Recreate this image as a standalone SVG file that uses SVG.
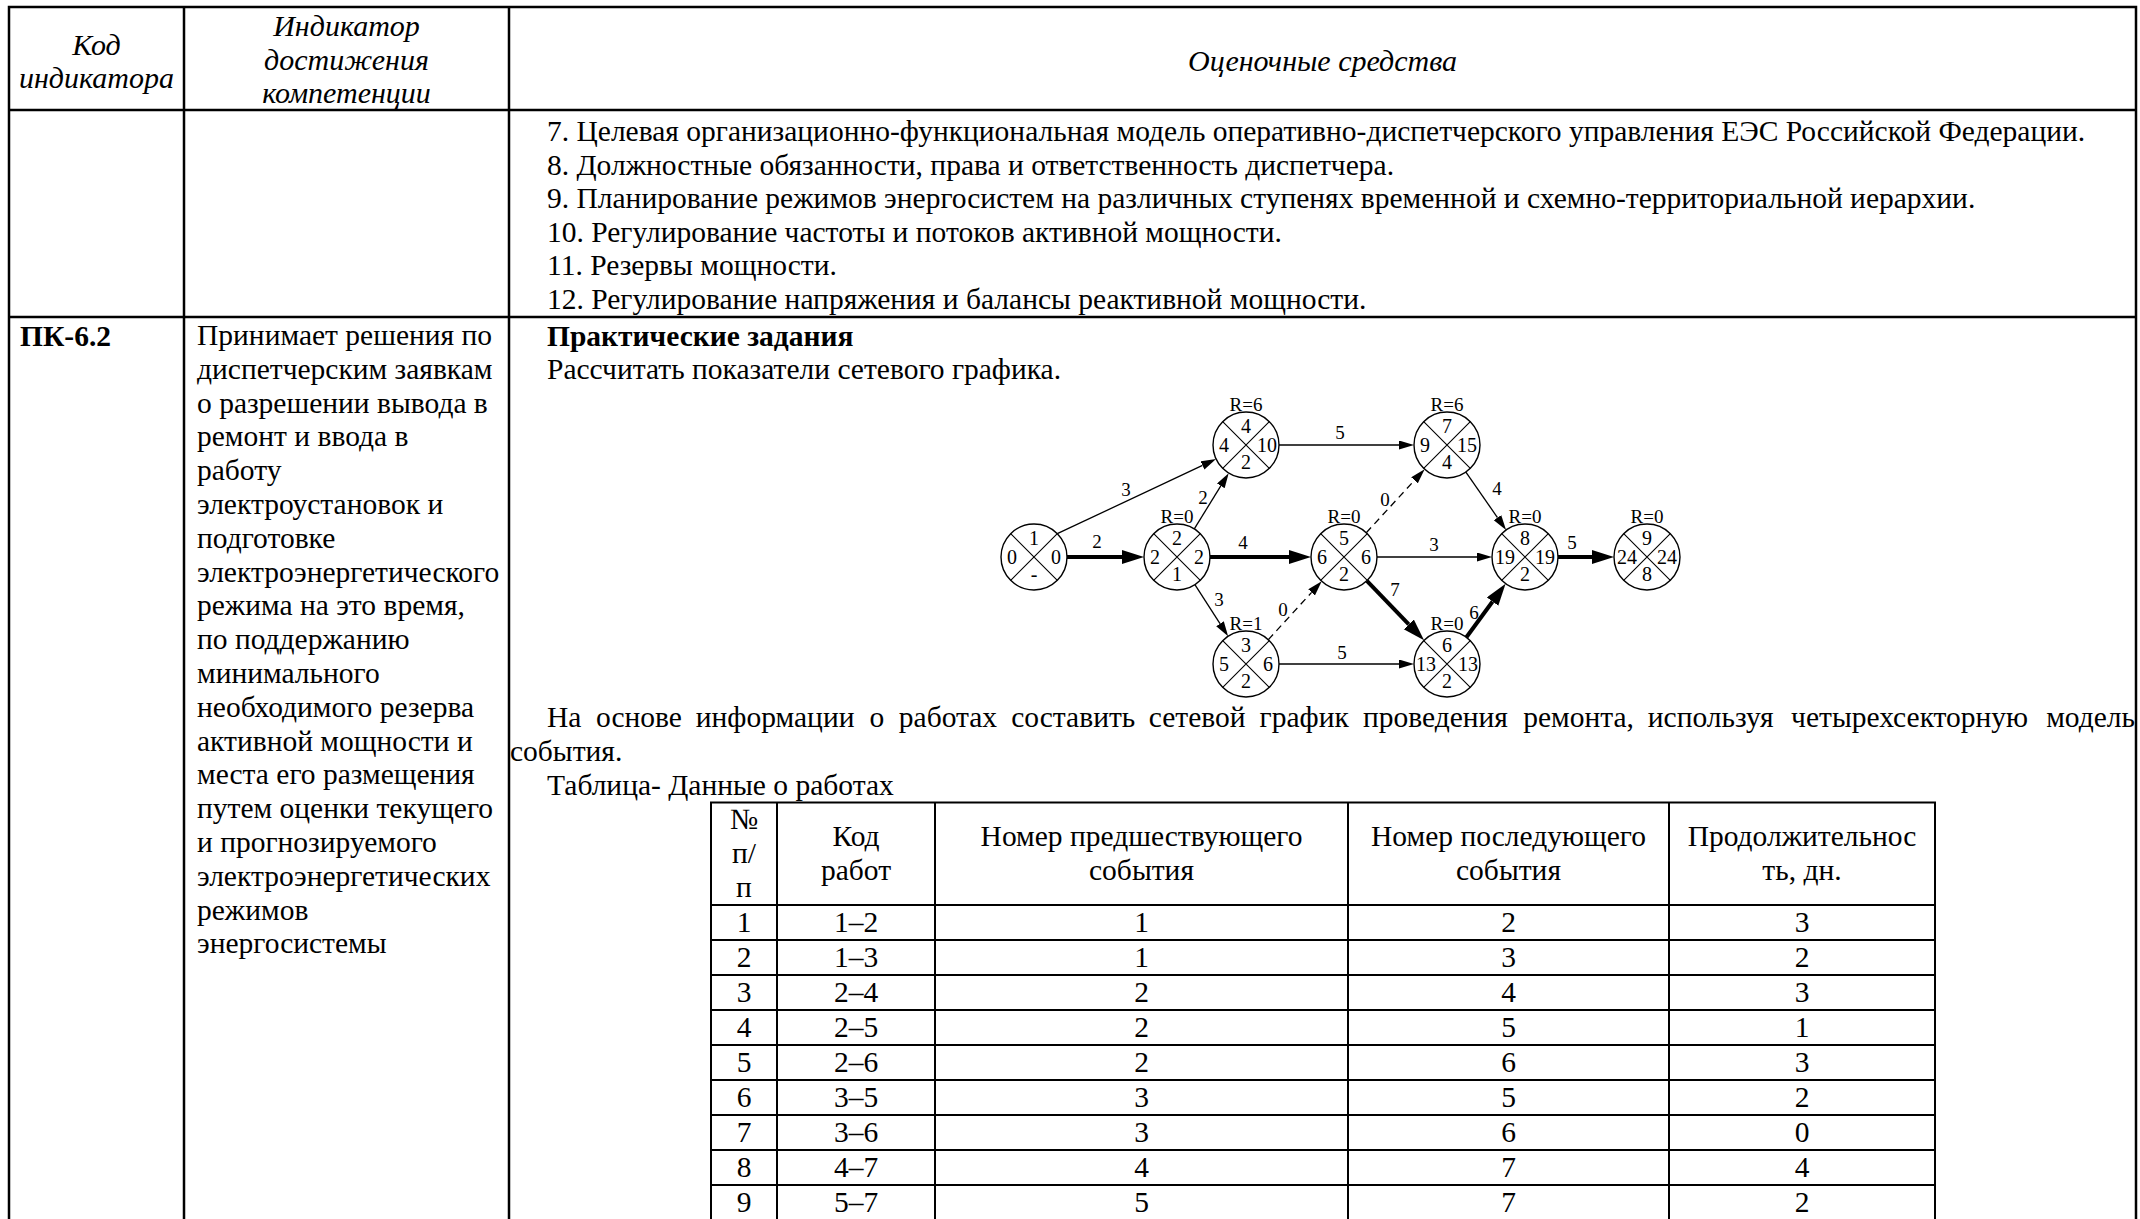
<svg xmlns="http://www.w3.org/2000/svg" width="2140" height="1219" viewBox="0 0 2140 1219">
<style>
text{font-family:"Liberation Serif","Times New Roman",serif;fill:#000}
.t{font-size:29.5px}
.it{font-size:30px;font-style:italic}
.b{font-weight:bold}
.c{text-anchor:middle}
.grid{stroke:#000;stroke-width:2.5;fill:none}
.tg{stroke:#000;stroke-width:2;fill:none}
.nd{fill:#fff;stroke:#000;stroke-width:1.4}
.x{stroke:#000;stroke-width:1.1}
.n{font-size:20px;text-anchor:middle}
.lb{font-size:19px;text-anchor:middle}
.e{stroke:#000;stroke-width:1.3;fill:none}
.ek{stroke:#000;stroke-width:4;fill:none}
.ed{stroke:#000;stroke-width:1.3;fill:none;stroke-dasharray:7 5}
</style>
<defs>
<marker id="a" markerUnits="userSpaceOnUse" markerWidth="16" markerHeight="10" refX="0" refY="4.5" orient="auto"><path d="M0,0 L15,4.5 L0,9 Z" fill="#000"/></marker>
<marker id="ak" markerUnits="userSpaceOnUse" markerWidth="23" markerHeight="15" refX="0" refY="7" orient="auto"><path d="M0,0 L22,7 L0,14 Z" fill="#000"/></marker>
</defs>
<rect width="2140" height="1219" fill="#fff"/>

<g id="outer-table">
<path class="grid" d="M9,1219 V7 H2136 V1219 M184,7 V1219 M509,7 V1219 M9,110 H2136 M9,317 H2136"/>
</g>

<g id="header">
<text class="it c" x="96.5" y="55">Код</text>
<text class="it c" x="96.5" y="88">индикатора</text>
<text class="it c" x="346.5" y="36">Индикатор</text>
<text class="it c" x="346.5" y="70">достижения</text>
<text class="it c" x="346.5" y="103">компетенции</text>
<text class="it c" x="1322.5" y="71">Оценочные средства</text>
</g>

<g id="row1">
<text class="t" x="547" y="141">7. Целевая организационно-функциональная модель оперативно-диспетчерского управления ЕЭС Российской Федерации.</text>
<text class="t" x="547" y="174.6">8. Должностные обязанности, права и ответственность диспетчера.</text>
<text class="t" x="547" y="208.2">9. Планирование режимов энергосистем на различных ступенях временной и схемно-территориальной иерархии.</text>
<text class="t" x="547" y="241.8">10. Регулирование частоты и потоков активной мощности.</text>
<text class="t" x="547" y="275.4">11. Резервы мощности.</text>
<text class="t" x="547" y="309">12. Регулирование напряжения и балансы реактивной мощности.</text>
</g>

<g id="row2">
<text class="t b" x="20" y="346">ПК-6.2</text>
<text class="t" x="197" y="345">
<tspan x="197" dy="0">Принимает решения по</tspan>
<tspan x="197" dy="33.8">диспетчерским заявкам</tspan>
<tspan x="197" dy="33.8">о разрешении вывода в</tspan>
<tspan x="197" dy="33.8">ремонт и ввода в</tspan>
<tspan x="197" dy="33.8">работу</tspan>
<tspan x="197" dy="33.8">электроустановок и</tspan>
<tspan x="197" dy="33.8">подготовке</tspan>
<tspan x="197" dy="33.8">электроэнергетического</tspan>
<tspan x="197" dy="33.8">режима на это время,</tspan>
<tspan x="197" dy="33.8">по поддержанию</tspan>
<tspan x="197" dy="33.8">минимального</tspan>
<tspan x="197" dy="33.8">необходимого резерва</tspan>
<tspan x="197" dy="33.8">активной мощности и</tspan>
<tspan x="197" dy="33.8">места его размещения</tspan>
<tspan x="197" dy="33.8">путем оценки текущего</tspan>
<tspan x="197" dy="33.8">и прогнозируемого</tspan>
<tspan x="197" dy="33.8">электроэнергетических</tspan>
<tspan x="197" dy="33.8">режимов</tspan>
<tspan x="197" dy="33.8">энергосистемы</tspan>
</text>
<text class="t b" x="547" y="346">Практические задания</text>
<text class="t" x="547" y="379">Рассчитать показатели сетевого графика.</text>
<text class="t" y="727"><tspan x="547">На</tspan><tspan x="595.9">основе</tspan><tspan x="695.8">информации</tspan><tspan x="869.5">о</tspan><tspan x="898.8">работах</tspan><tspan x="1011.2">составить</tspan><tspan x="1148.8">сетевой</tspan><tspan x="1259.6">график</tspan><tspan x="1362.9">проведения</tspan><tspan x="1523.2">ремонта,</tspan><tspan x="1647.8">используя</tspan><tspan x="1791.1">четырехсекторную</tspan></text>
<text class="t" x="2135" y="727" text-anchor="end">модель</text>
<text class="t" x="510" y="761">события.</text>
<text class="t" x="547" y="795">Таблица- Данные о работах</text>
</g>

<g id="connectors">
<line class="ek" x1="1067" y1="557" x2="1122" y2="557" marker-end="url(#ak)"/>
<line class="e" x1="1057.3" y1="533.7" x2="1202.5" y2="465.4" marker-end="url(#a)"/>
<line class="e" x1="1194.3" y1="528.9" x2="1220.8" y2="485.9" marker-end="url(#a)"/>
<line class="ek" x1="1210" y1="557" x2="1289" y2="557" marker-end="url(#ak)"/>
<line class="e" x1="1194.9" y1="584.7" x2="1220" y2="623.7" marker-end="url(#a)"/>
<line class="ed" x1="1268.3" y1="639.7" x2="1311.6" y2="592.4" marker-end="url(#a)"/>
<line class="e" x1="1279" y1="445" x2="1399" y2="445" marker-end="url(#a)"/>
<line class="ed" x1="1366.3" y1="532.7" x2="1414.5" y2="480.3" marker-end="url(#a)"/>
<line class="e" x1="1377" y1="557" x2="1477" y2="557" marker-end="url(#a)"/>
<line class="ek" x1="1366.9" y1="580.8" x2="1408.8" y2="624.4" marker-end="url(#ak)"/>
<line class="e" x1="1279" y1="664" x2="1399" y2="664" marker-end="url(#a)"/>
<line class="e" x1="1465.9" y1="472.1" x2="1497.5" y2="517.6" marker-end="url(#a)"/>
<line class="ek" x1="1466.4" y1="637.3" x2="1492.6" y2="601.5" marker-end="url(#ak)"/>
<line class="ek" x1="1558" y1="557" x2="1592" y2="557" marker-end="url(#ak)"/>
<text class="lb" x="1097" y="548">2</text>
<text class="lb" x="1126" y="496">3</text>
<text class="lb" x="1203" y="504">2</text>
<text class="lb" x="1243" y="549">4</text>
<text class="lb" x="1219" y="606">3</text>
<text class="lb" x="1283" y="616">0</text>
<text class="lb" x="1340" y="439">5</text>
<text class="lb" x="1385" y="506">0</text>
<text class="lb" x="1434" y="551">3</text>
<text class="lb" x="1395" y="596">7</text>
<text class="lb" x="1342" y="659">5</text>
<text class="lb" x="1497" y="495">4</text>
<text class="lb" x="1474" y="619">6</text>
<text class="lb" x="1572" y="549">5</text>
</g>

<g id="n1">
<circle class="nd" cx="1034" cy="557" r="33"/>
<path class="x" d="M1010.7,533.7 L1057.3,580.3 M1057.3,533.7 L1010.7,580.3"/>
<text class="n" x="1034" y="545">1</text><text class="n" x="1012" y="564">0</text><text class="n" x="1056" y="564">0</text><text class="n" x="1034" y="581">-</text>
</g>
<g id="n2">
<circle class="nd" cx="1177" cy="557" r="33"/>
<path class="x" d="M1153.7,533.7 L1200.3,580.3 M1200.3,533.7 L1153.7,580.3"/>
<text class="lb" x="1177" y="523">R=0</text>
<text class="n" x="1177" y="545">2</text><text class="n" x="1155" y="564">2</text><text class="n" x="1199" y="564">2</text><text class="n" x="1177" y="581">1</text>
</g>
<g id="n4">
<circle class="nd" cx="1246" cy="445" r="33"/>
<path class="x" d="M1222.7,421.7 L1269.3,468.3 M1269.3,421.7 L1222.7,468.3"/>
<text class="lb" x="1246" y="411">R=6</text>
<text class="n" x="1246" y="433">4</text><text class="n" x="1224" y="452">4</text><text class="n" x="1267" y="452">10</text><text class="n" x="1246" y="469">2</text>
</g>
<g id="n3">
<circle class="nd" cx="1246" cy="664" r="33"/>
<path class="x" d="M1222.7,640.7 L1269.3,687.3 M1269.3,640.7 L1222.7,687.3"/>
<text class="lb" x="1246" y="630">R=1</text>
<text class="n" x="1246" y="652">3</text><text class="n" x="1224" y="671">5</text><text class="n" x="1268" y="671">6</text><text class="n" x="1246" y="688">2</text>
</g>
<g id="n5">
<circle class="nd" cx="1344" cy="557" r="33"/>
<path class="x" d="M1320.7,533.7 L1367.3,580.3 M1367.3,533.7 L1320.7,580.3"/>
<text class="lb" x="1344" y="523">R=0</text>
<text class="n" x="1344" y="545">5</text><text class="n" x="1322" y="564">6</text><text class="n" x="1366" y="564">6</text><text class="n" x="1344" y="581">2</text>
</g>
<g id="n7">
<circle class="nd" cx="1447" cy="445" r="33"/>
<path class="x" d="M1423.7,421.7 L1470.3,468.3 M1470.3,421.7 L1423.7,468.3"/>
<text class="lb" x="1447" y="411">R=6</text>
<text class="n" x="1447" y="433">7</text><text class="n" x="1425" y="452">9</text><text class="n" x="1467" y="452">15</text><text class="n" x="1447" y="469">4</text>
</g>
<g id="n6">
<circle class="nd" cx="1447" cy="664" r="33"/>
<path class="x" d="M1423.7,640.7 L1470.3,687.3 M1470.3,640.7 L1423.7,687.3"/>
<text class="lb" x="1447" y="630">R=0</text>
<text class="n" x="1447" y="652">6</text><text class="n" x="1426" y="671">13</text><text class="n" x="1468" y="671">13</text><text class="n" x="1447" y="688">2</text>
</g>
<g id="n8">
<circle class="nd" cx="1525" cy="557" r="33"/>
<path class="x" d="M1501.7,533.7 L1548.3,580.3 M1548.3,533.7 L1501.7,580.3"/>
<text class="lb" x="1525" y="523">R=0</text>
<text class="n" x="1525" y="545">8</text><text class="n" x="1505" y="564">19</text><text class="n" x="1545" y="564">19</text><text class="n" x="1525" y="581">2</text>
</g>
<g id="n9">
<circle class="nd" cx="1647" cy="557" r="33"/>
<path class="x" d="M1623.7,533.7 L1670.3,580.3 M1670.3,533.7 L1623.7,580.3"/>
<text class="lb" x="1647" y="523">R=0</text>
<text class="n" x="1647" y="545">9</text><text class="n" x="1627" y="564">24</text><text class="n" x="1667" y="564">24</text><text class="n" x="1647" y="581">8</text>
</g>

<g id="data-table">
<path class="tg" d="M711,1219 V802.5 H1935 V1219 M777,802.5 V1219 M935,802.5 V1219 M1348,802.5 V1219 M1669,802.5 V1219 M711,905 H1935 M711,940 H1935 M711,975 H1935 M711,1010 H1935 M711,1045 H1935 M711,1080 H1935 M711,1115 H1935 M711,1150 H1935 M711,1185 H1935"/>
<g class="t c">
<text x="744" y="829">№</text><text x="744" y="863">п/</text><text x="744" y="897">п</text>
<text x="856" y="846">Код</text><text x="856" y="880">работ</text>
<text x="1141.5" y="846">Номер предшествующего</text><text x="1141.5" y="880">события</text>
<text x="1508.5" y="846">Номер последующего</text><text x="1508.5" y="880">события</text>
<text x="1802" y="846">Продолжительнос</text><text x="1802" y="880">ть, дн.</text>
</g>
<g class="t c">
<text x="744" y="932">1</text><text x="856" y="932">1–2</text><text x="1141.5" y="932">1</text><text x="1508.5" y="932">2</text><text x="1802" y="932">3</text>
<text x="744" y="967">2</text><text x="856" y="967">1–3</text><text x="1141.5" y="967">1</text><text x="1508.5" y="967">3</text><text x="1802" y="967">2</text>
<text x="744" y="1002">3</text><text x="856" y="1002">2–4</text><text x="1141.5" y="1002">2</text><text x="1508.5" y="1002">4</text><text x="1802" y="1002">3</text>
<text x="744" y="1037">4</text><text x="856" y="1037">2–5</text><text x="1141.5" y="1037">2</text><text x="1508.5" y="1037">5</text><text x="1802" y="1037">1</text>
<text x="744" y="1072">5</text><text x="856" y="1072">2–6</text><text x="1141.5" y="1072">2</text><text x="1508.5" y="1072">6</text><text x="1802" y="1072">3</text>
<text x="744" y="1107">6</text><text x="856" y="1107">3–5</text><text x="1141.5" y="1107">3</text><text x="1508.5" y="1107">5</text><text x="1802" y="1107">2</text>
<text x="744" y="1142">7</text><text x="856" y="1142">3–6</text><text x="1141.5" y="1142">3</text><text x="1508.5" y="1142">6</text><text x="1802" y="1142">0</text>
<text x="744" y="1177">8</text><text x="856" y="1177">4–7</text><text x="1141.5" y="1177">4</text><text x="1508.5" y="1177">7</text><text x="1802" y="1177">4</text>
<text x="744" y="1212">9</text><text x="856" y="1212">5–7</text><text x="1141.5" y="1212">5</text><text x="1508.5" y="1212">7</text><text x="1802" y="1212">2</text>
</g>
</g>
</svg>
